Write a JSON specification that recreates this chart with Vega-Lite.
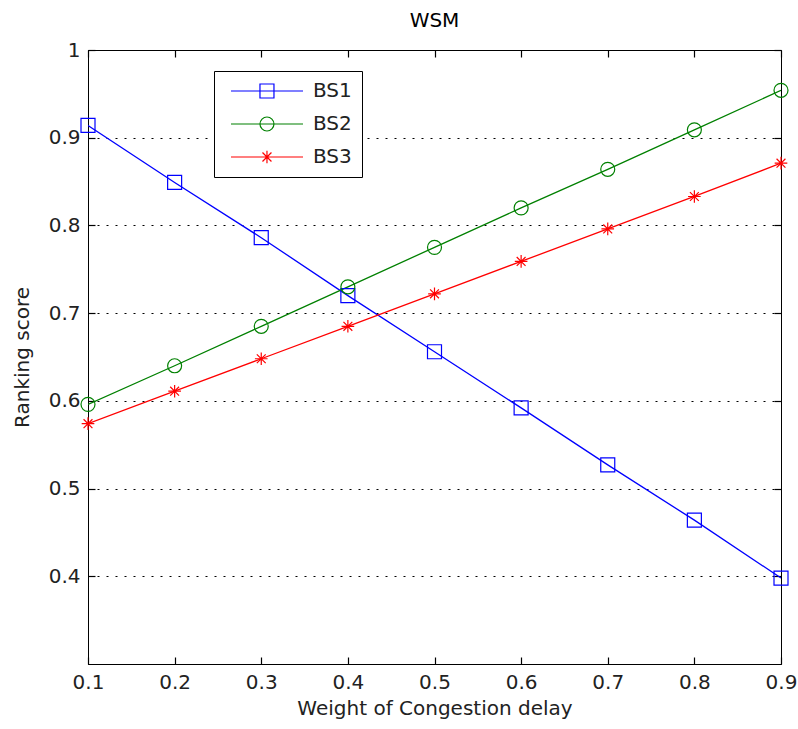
{
  "$schema": "https://vega.github.io/schema/vega-lite/v6.json",
  "width": 693,
  "height": 614,
  "autosize": {"type": "none"},
  "padding": {"left": 88, "top": 50, "right": 17, "bottom": 65},
  "background": "white",
  "title": {"text": "WSM", "fontSize": 20, "font": "DejaVu Sans", "fontWeight": "normal", "color": "black", "offset": 9},
  "config": {
    "view": {"stroke": "black", "strokeWidth": 1},
    "axis": {"labelFont": "DejaVu Sans", "titleFont": "DejaVu Sans", "labelFontSize": 20, "titleFontSize": 20, "titleFontWeight": "normal", "labelColor": "#222", "titleColor": "#222", "domainColor": "black", "tickColor": "black", "tickWidth": 1.2}
  },
  "data": {"values": [
    {"w": 0.1, "series": "BS1", "score": 0.914},
    {"w": 0.2, "series": "BS1", "score": 0.849},
    {"w": 0.3, "series": "BS1", "score": 0.786},
    {"w": 0.4, "series": "BS1", "score": 0.720},
    {"w": 0.5, "series": "BS1", "score": 0.656},
    {"w": 0.6, "series": "BS1", "score": 0.592},
    {"w": 0.7, "series": "BS1", "score": 0.527},
    {"w": 0.8, "series": "BS1", "score": 0.464},
    {"w": 0.9, "series": "BS1", "score": 0.398},
    {"w": 0.1, "series": "BS2", "score": 0.596},
    {"w": 0.2, "series": "BS2", "score": 0.640},
    {"w": 0.3, "series": "BS2", "score": 0.685},
    {"w": 0.4, "series": "BS2", "score": 0.730},
    {"w": 0.5, "series": "BS2", "score": 0.775},
    {"w": 0.6, "series": "BS2", "score": 0.820},
    {"w": 0.7, "series": "BS2", "score": 0.864},
    {"w": 0.8, "series": "BS2", "score": 0.909},
    {"w": 0.9, "series": "BS2", "score": 0.954},
    {"w": 0.1, "series": "BS3", "score": 0.574},
    {"w": 0.2, "series": "BS3", "score": 0.611},
    {"w": 0.3, "series": "BS3", "score": 0.648},
    {"w": 0.4, "series": "BS3", "score": 0.685},
    {"w": 0.5, "series": "BS3", "score": 0.722},
    {"w": 0.6, "series": "BS3", "score": 0.759},
    {"w": 0.7, "series": "BS3", "score": 0.796},
    {"w": 0.8, "series": "BS3", "score": 0.833},
    {"w": 0.9, "series": "BS3", "score": 0.871}
  ]},
  "resolve": {"axis": {"x": "independent", "y": "independent"}},
  "layer": [
    {
      "mark": {"type": "line", "strokeWidth": 1.3, "clip": true},
      "encoding": {
        "x": {"field": "w", "type": "quantitative", "scale": {"domain": [0.1, 0.9], "nice": false, "zero": false},
          "axis": {"orient": "bottom", "title": "Weight of Congestion delay", "values": [0.1,0.2,0.3,0.4,0.5,0.6,0.7,0.8,0.9], "format": "~g", "grid": false, "tickSize": -7, "labelPadding": 15, "titlePadding": 6, "labelFlush": false}},
        "y": {"field": "score", "type": "quantitative", "scale": {"domain": [0.3, 1], "nice": false, "zero": false},
          "axis": {"orient": "left", "title": "Ranking score", "values": [0.4,0.5,0.6,0.7,0.8,0.9,1], "format": "~g", "grid": true, "gridDash": [2, 7], "gridColor": "black", "gridOpacity": 1, "tickSize": -7, "labelPadding": 15, "titlePadding": 16}},
        "color": {"field": "series", "type": "nominal", "scale": {"domain": ["BS1", "BS2", "BS3"], "range": ["#0000ff", "#008000", "#ff0000"]},
          "legend": {"title": null, "orient": "none", "legendX": 126, "legendY": 21, "padding": 10, "strokeColor": "black", "fillColor": "white", "symbolSize": 196, "symbolStrokeWidth": 1.2, "labelFont": "DejaVu Sans", "labelFontSize": 20, "labelColor": "#222", "labelOffset": 69, "rowPadding": 13,
            "encode": {"symbols": {"update": {"fill": {"value": "transparent"}, "shape": {"signal": "datum.value === 'BS1' ? 'M-0.43,0H9.86M3.71,-1H5.71V1H3.71Z' : datum.value === 'BS2' ? 'M-0.43,0H9.86M5.71,0A1,1,0,1,1,3.71,0A1,1,0,1,1,5.71,0Z' : 'M-0.43,0H9.86M4.71,-0.9V0.9M4.07,-0.64L5.35,0.64M4.07,0.64L5.35,-0.64'"}}}}}}
      }
    },
    {
      "transform": [{"filter": "datum.series === 'BS1'"}],
      "mark": {"type": "point", "shape": "square", "filled": false, "strokeWidth": 1.2, "size": 196, "opacity": 1, "color": "#0000ff"},
      "encoding": {
        "x": {"field": "w", "type": "quantitative", "axis": {"orient": "top", "title": null, "labels": false, "values": [0.1,0.2,0.3,0.4,0.5,0.6,0.7,0.8,0.9], "grid": false, "tickSize": -7, "domain": false}},
        "y": {"field": "score", "type": "quantitative", "axis": {"orient": "right", "title": null, "labels": false, "values": [0.4,0.5,0.6,0.7,0.8,0.9,1], "grid": false, "tickSize": -7, "domain": false}}
      }
    },
    {
      "transform": [{"filter": "datum.series === 'BS2'"}],
      "mark": {"type": "point", "shape": "circle", "filled": false, "strokeWidth": 1.2, "size": 196, "opacity": 1, "color": "#008000"},
      "encoding": {
        "x": {"field": "w", "type": "quantitative", "axis": null},
        "y": {"field": "score", "type": "quantitative", "axis": null}
      }
    },
    {
      "transform": [{"filter": "datum.series === 'BS3'"}],
      "mark": {"type": "point", "shape": "M-1,0H1M0,-1V1M-0.7,-0.7L0.7,0.7M-0.7,0.7L0.7,-0.7", "filled": false, "strokeWidth": 1.2, "size": 160, "opacity": 1, "color": "#ff0000"},
      "encoding": {
        "x": {"field": "w", "type": "quantitative", "axis": null},
        "y": {"field": "score", "type": "quantitative", "axis": null}
      }
    }
  ]
}
